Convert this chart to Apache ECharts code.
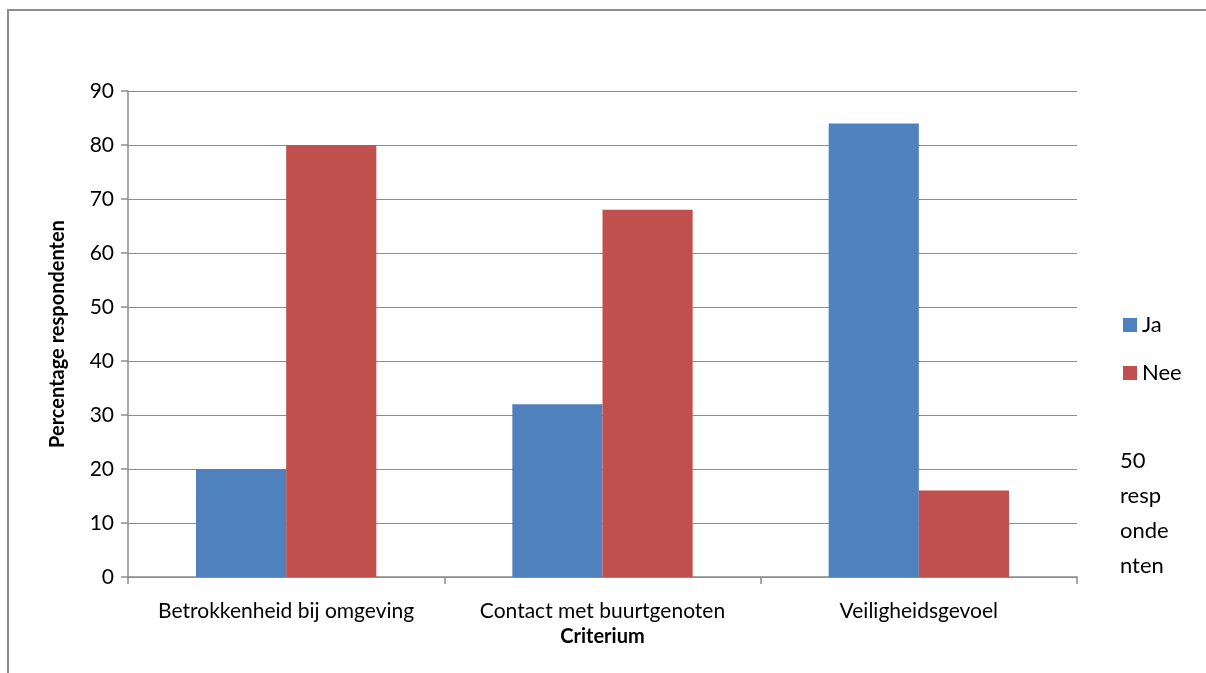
<!DOCTYPE html>
<html><head><meta charset="utf-8">
<script src="https://cdn.jsdelivr.net/npm/echarts@6/dist/echarts.min.js"></script>
<style>html,body{margin:0;padding:0;background:#fff}#c{width:1206px;height:673px}</style>
</head><body><div id="c"></div>
<script>
const categories = ['Betrokkenheid bij omgeving', 'Contact met buurtgenoten', 'Veiligheidsgevoel'];
const jaValues = [20, 32, 84];
const neeValues = [80, 68, 16];
const yTicks = [0, 10, 20, 30, 40, 50, 60, 70, 80, 90];
const FONT = 'Lato';
const chart = echarts.init(document.getElementById('c'));
chart.setOption({
  animation: false,
  textStyle: {fontFamily: FONT},
  graphic: [
    {type: 'rect', shape: {x: 8, y: 10, width: 1300, height: 800}, style: {fill: 'none', stroke: '#8c8c8c', lineWidth: 2}},
    {type: 'text', left: 1120, top: 443, style: {text: '50\nresp\nonde\nnten', font: '22px ' + FONT, fill: '#000', lineHeight: 35}}
  ],
  legend: {
    orient: 'vertical', left: 1118, top: 309, itemWidth: 14, itemHeight: 14, itemGap: 26,
    textStyle: {fontSize: 22, color: '#000', fontFamily: FONT}, icon: 'rect',
    data: ['Ja', 'Nee']
  },
  grid: {left: 128, right: 129, top: 91, bottom: 96, containLabel: false},
  xAxis: {
    type: 'category', data: categories,
    name: 'Criterium', nameLocation: 'middle', nameGap: 46,
    nameTextStyle: {fontWeight: 'bold', fontSize: 20, color: '#000', fontFamily: FONT},
    axisLine: {lineStyle: {color: '#8c8c8c', width: 1.5}},
    axisTick: {show: true, interval: 0, length: 7, lineStyle: {color: '#8c8c8c', width: 1.5}},
    axisLabel: {color: '#000', fontSize: 21, margin: 24, fontFamily: FONT, interval: 0, hideOverlap: false}
  },
  yAxis: {
    type: 'value', min: 0, max: 90, interval: 10,
    name: 'Percentage respondenten', nameLocation: 'middle', nameGap: 60, nameRotate: 90,
    nameTextStyle: {fontWeight: 'bold', fontSize: 20, color: '#000', fontFamily: FONT},
    axisLine: {show: true, lineStyle: {color: '#8c8c8c', width: 1.5}},
    axisTick: {show: true, length: 7, lineStyle: {color: '#8c8c8c', width: 1.5}},
    splitLine: {lineStyle: {color: '#8c8c8c', width: 1.2}},
    axisLabel: {color: '#000', fontSize: 21, margin: 14, fontFamily: FONT,
      formatter: v => yTicks.includes(v) ? String(v) : ''}
  },
  series: [
    {name: 'Ja', type: 'bar', data: jaValues, itemStyle: {color: '#4f81bd'}, barGap: '0%', barCategoryGap: '43%'},
    {name: 'Nee', type: 'bar', data: neeValues, itemStyle: {color: '#c0504d'}, barGap: '0%', barCategoryGap: '43%'}
  ]
});
</script></body></html>
